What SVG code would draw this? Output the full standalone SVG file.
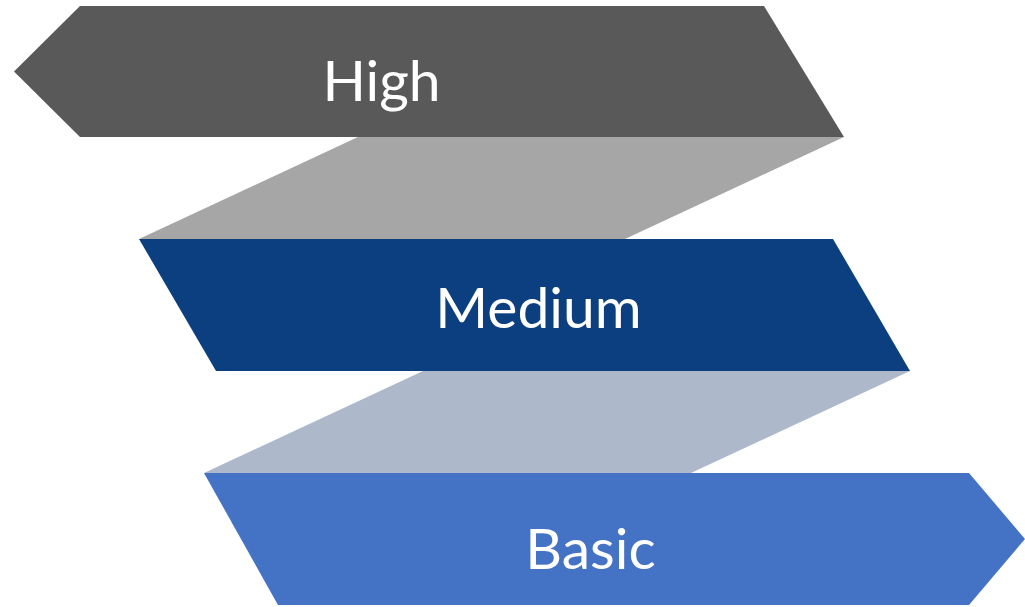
<svg xmlns="http://www.w3.org/2000/svg" width="1025" height="607" viewBox="0 0 1025 607">
<style>
.lbl{font-family:"Lato","Liberation Sans",sans-serif;font-size:57px;fill:#FFFFFF;text-anchor:middle}
</style>
<rect width="1025" height="607" fill="#FFFFFF"/>
<g id="connectors">
<polygon points="358,137 844,137 625,239 139,239" fill="#A6A6A6"/>
<polygon points="423,371 910,371 691,473 204,473" fill="#ADB9CA"/>
</g>
<g id="high">
<polygon points="80,6 764,6 844,137 80,137 14,71.5" fill="#595959"/>
<text class="lbl" x="381.5" y="101">High</text>
</g>
<g id="medium">
<polygon points="139,239 833,239 910,371 216,371" fill="#0B3F7F"/>
<text class="lbl" x="538.5" y="328">Medium</text>
</g>
<g id="basic">
<polygon points="204,473 969,473 1025,539 969,605 278,605" fill="#4472C4"/>
<text class="lbl" x="590.5" y="569">Basic</text>
</g>
</svg>
